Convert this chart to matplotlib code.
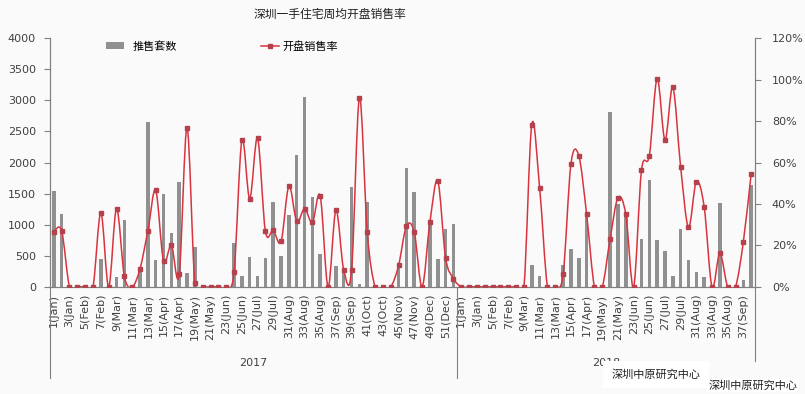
import matplotlib.pyplot as plt
import numpy as np
from matplotlib.path import Path
from matplotlib.patches import PathPatch

plt.rcParams['font.family'] = ['DejaVu Sans', 'Noto Sans CJK SC']

# --- data (weekly, 2017 weeks 1-52, 2018 weeks 1-38) ---
supply_2017 = [1540, 1170, 0, 0, 0, 0, 446, 0, 156, 1075,
               0, 296, 2652, 430, 1492, 864, 1686, 220, 640, 0,
               0, 0, 0, 703, 172, 478, 172, 462, 1364, 494,
               1154, 2120, 3059, 1444, 526, 0, 333, 300, 1605, 43,
               1364, 0, 0, 0, 301, 1911, 1525, 0, 993, 446,
               929, 1009]
rate_2017 = [26.6, 27, 0, 0, 0, 0, 35.7, 0, 37.7, 5.2,
             0, 8.7, 27, 46.6, 12.6, 20.1, 6, 76.8, 2, 0,
             0, 0, 0, 7.1, 70.7, 42.5, 71.7, 26.9, 27.2, 21.9,
             48.6, 31.6, 37.7, 31.1, 43.8, 0, 36.9, 8.1, 8.1, 91.3,
             26.3, 0, 0, 0, 10.3, 29.3, 26.4, 0, 31.2, 51.2,
             14, 4]
supply_2018 = [0, 0, 0, 0, 0, 0, 0, 0, 0, 349,
               172, 0, 0, 349, 607, 462, 1187, 0, 0, 2812,
               1336, 1187, 0, 768, 1718, 752, 575, 172, 929, 430,
               237, 156, 0, 1348, 0, 0, 108, 1637]
rate_2018 = [0, 0, 0, 0, 0, 0, 0, 0, 0, 78.3,
             47.8, 0, 0, 6, 59.4, 63.3, 35, 0, 0, 23.2,
             43, 35, 0, 56.2, 63.3, 100.5, 70.9, 96.3, 57.8, 28.8,
             50.7, 38.6, 0, 16.1, 0, 0, 21.7, 54.6]
labels_2017 = ['1(Jan)', '3(Jan)', '5(Feb)', '7(Feb)', '9(Mar)', '11(Mar)', '13(Mar)',
               '15(Apr)', '17(Apr)', '19(May)', '21(May)', '23(Jun)', '25(Jun)', '27(Jul)',
               '29(Jul)', '31(Aug)', '33(Aug)', '35(Aug)', '37(Sep)', '39(Sep)', '41(Oct)',
               '43(Oct)', '45(Nov)', '47(Nov)', '49(Dec)', '51(Dec)']
labels_2018 = ['1(Jan)', '3(Jan)', '5(Feb)', '7(Feb)', '9(Mar)', '11(Mar)', '13(Mar)',
               '15(Apr)', '17(Apr)', '19(May)', '21(May)', '23(Jun)', '25(Jun)', '27(Jul)',
               '29(Jul)', '31(Aug)', '33(Aug)', '35(Aug)', '37(Sep)']
years = ['2017', '2018']

supply = np.array(supply_2017 + supply_2018, dtype=float)
rate = np.array(rate_2017 + rate_2018, dtype=float)
n17, n18 = len(supply_2017), len(supply_2018)
x = np.arange(len(supply))

bar_c = '#909090'
line_c = '#d8343f'
mark_c = '#b5414c'
txt_c = '#404040'
cjk = ['Noto Sans CJK SC', 'DejaVu Sans']

fig = plt.figure(figsize=(8.05, 3.94), dpi=100, facecolor='#fafafa')
ax = fig.add_axes([0.062, 0.272, 0.876, 0.631], facecolor='#fafafa')
ax2 = ax.twinx()

bars = ax.bar(x, supply, width=0.45, color=bar_c, label='推售套数')
ax.set_ylim(0, 4000)
ax.set_yticks(np.arange(0, 4001, 500))
ax.set_xlim(-0.5, len(x) - 0.5)

# smoothed line (Catmull-Rom as cubic bezier, like Excel's smoothed line)
pts = np.column_stack([x, rate])
verts = [pts[0]]
codes = [Path.MOVETO]
for i in range(len(pts) - 1):
    p0 = pts[i - 1] if i > 0 else pts[i]
    p1, p2 = pts[i], pts[i + 1]
    p3 = pts[i + 2] if i + 2 < len(pts) else pts[i + 1]
    verts += [p1 + (p2 - p0) / 6, p2 - (p3 - p1) / 6, p2]
    codes += [Path.CURVE4] * 3
ax2.add_patch(PathPatch(Path(verts, codes), fill=False, edgecolor=line_c, lw=1.1))
ax2.plot(x, rate, 's', color=mark_c, ms=2.6, zorder=3)
ax2.set_ylim(0, 120)
ax2.set_yticks(np.arange(0, 121, 20))
ax2.set_yticklabels([f'{v}%' for v in range(0, 121, 20)])

for a in (ax, ax2):
    a.spines['top'].set_visible(False)
    for s in ('left', 'right', 'bottom'):
        a.spines[s].set_color('#808080')
        a.spines[s].set_linewidth(0.8)
    a.tick_params(axis='y', labelsize=8, colors=txt_c, length=4, width=0.8, color='#808080')
ax.tick_params(axis='y', pad=6)
ax2.tick_params(axis='y', pad=8)

# category labels
tick_pos = list(range(0, n17, 2)) + list(range(n17, n17 + n18, 2))
ax.set_xticks(tick_pos)
ax.set_xticklabels(labels_2017 + labels_2018, rotation=90, fontsize=8, color=txt_c)
ax.tick_params(axis='x', length=0, pad=5)

# year groups
trans = ax.get_xaxis_transform()
for xs, y_end in [(-0.5, -0.365), (n17 - 0.5, -0.365), (n17 + n18 - 0.5, -0.30)]:
    ax.plot([xs, xs], [0, y_end], color='#808080', lw=0.8, transform=trans, clip_on=False)
ax.text((n17 - 1) / 2, -0.305, years[0], transform=trans, ha='center', va='center',
        fontsize=8, color=txt_c)
ax.text(n17 + (n18 - 1) / 2, -0.305, years[1], transform=trans, ha='center', va='center',
        fontsize=8, color=txt_c)

# legend
l2, = ax2.plot([], [], '-s', color=line_c, mfc=mark_c, mec=mark_c, ms=2.6, lw=1.1)
ax.legend([bars], ['推售套数'], loc='upper left', bbox_to_anchor=(0.065, 1.03),
          frameon=False, prop={'family': cjk, 'size': 8}, handlelength=1.6,
          handleheight=0.6)
ax2.legend([l2], ['开盘销售率'], loc='upper left', bbox_to_anchor=(0.285, 1.03),
           frameon=False, prop={'family': cjk, 'size': 8}, handlelength=1.6,
           handletextpad=0.3)

fig.text(0.41, 0.963, '深圳一手住宅周均开盘销售率', ha='center', va='center',
         family=cjk, fontsize=8.5, color='#222222')

# watermarks
fig.text(0.76, 0.05, '深圳中原研究中心', ha='left', va='center', family=cjk, fontsize=8,
         color='#222222', bbox=dict(facecolor='white', edgecolor='none', pad=6))
fig.text(0.88, 0.022, '深圳中原研究中心', ha='left', va='center', family=cjk, fontsize=8,
         color='#222222', bbox=dict(facecolor='white', edgecolor='none', pad=1))

fig.savefig('out.png', dpi=100, facecolor=fig.get_facecolor())
